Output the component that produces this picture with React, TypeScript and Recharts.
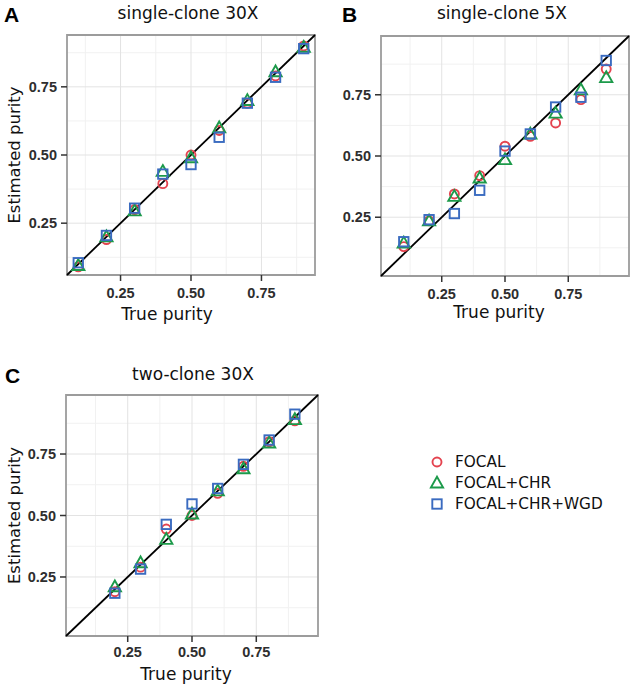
import {
  CartesianGrid,
  Legend,
  ReferenceArea,
  ReferenceLine,
  Scatter,
  ScatterChart,
  XAxis,
  YAxis,
} from "recharts";

// true purity levels
const TRUE_AB = [0.1, 0.2, 0.3, 0.4, 0.5, 0.6, 0.7, 0.8, 0.9];
const TRUE_C = [0.2, 0.3, 0.4, 0.5, 0.6, 0.7, 0.8, 0.9];

// estimated purity
const A_FOCAL = [0.09, 0.19, 0.3, 0.395, 0.5, 0.59, 0.69, 0.79, 0.9];
const A_CHR = [0.095, 0.2, 0.295, 0.44, 0.49, 0.6, 0.7, 0.805, 0.895];
const A_WGD = [0.105, 0.205, 0.305, 0.43, 0.465, 0.565, 0.69, 0.785, 0.89];

const B_FOCAL = [0.13, 0.235, 0.345, 0.42, 0.54, 0.58, 0.635, 0.73, 0.855];
const B_CHR = [0.145, 0.235, 0.335, 0.41, 0.485, 0.59, 0.675, 0.77, 0.82];
const B_WGD = [0.15, 0.24, 0.265, 0.36, 0.52, 0.59, 0.7, 0.74, 0.89];

const C_FOCAL = [0.19, 0.29, 0.445, 0.5, 0.59, 0.7, 0.8, 0.885];
const C_CHR = [0.21, 0.308, 0.403, 0.506, 0.6, 0.69, 0.795, 0.89];
const C_WGD = [0.184, 0.282, 0.464, 0.547, 0.61, 0.708, 0.807, 0.912];

const MAJOR_TICKS = [0.25, 0.5, 0.75];
const MINOR_TICKS = [0.125, 0.375, 0.625, 0.875];

const RED = "#e4434f";
const GREEN = "#1c9a4a";
const BLUE = "#3a6bc0";

const SERIES = [
  { name: "FOCAL", kind: "circle", color: RED },
  { name: "FOCAL+CHR", kind: "triangle", color: GREEN },
  { name: "FOCAL+CHR+WGD", kind: "square", color: BLUE },
];

const TEXT_FONT = "'DejaVu Sans', sans-serif";
const TICK_STYLE = {
  fontSize: 14.5,
  fontWeight: "bold",
  fill: "#2e2e2e",
  fontFamily: "'Liberation Sans', Arial, sans-serif",
};

const toRows = (xs: number[], ys: number[]) => xs.map((x, i) => ({ x, y: ys[i] }));

function Marker({ cx, cy, kind, color }: { cx?: number; cy?: number; kind: string; color: string }) {
  if (cx == null || cy == null) return null;
  const common = { fill: "none", stroke: color, strokeWidth: 1.9 };
  if (kind === "circle") return <circle cx={cx} cy={cy} r={4.5} {...common} />;
  if (kind === "triangle")
    return (
      <polygon
        points={`${cx},${cy - 6.3} ${cx + 6.1},${cy + 4.5} ${cx - 6.1},${cy + 4.5}`}
        {...common}
      />
    );
  return <rect x={cx - 4.7} y={cy - 4.7} width={9.4} height={9.4} {...common} />;
}

function LegendBox() {
  return (
    <div style={{ fontFamily: TEXT_FONT, fontSize: 15.3, color: "#111" }}>
      {SERIES.map((s) => (
        <div key={s.name} style={{ display: "flex", alignItems: "center", height: 21 }}>
          <svg width={18} height={18} style={{ marginRight: 9 }}>
            <Marker cx={9} cy={9} kind={s.kind} color={s.color} />
          </svg>
          <span>{s.name}</span>
        </div>
      ))}
    </div>
  );
}

type PanelProps = {
  left: number;
  top: number;
  width: number;
  height: number;
  marginTop: number;
  marginRight: number;
  yAxisWidth: number;
  xAxisHeight: number;
  domain: [number, number];
  xs: number[];
  focal: number[];
  chr: number[];
  wgd: number[];
  yTitle?: boolean;
  xTickMargin: number;
  xTitleShift: number;
  xTitleOffset: number;
  legend?: boolean;
};

function Panel(p: PanelProps) {
  const [lo, hi] = p.domain;
  const rows = [toRows(p.xs, p.focal), toRows(p.xs, p.chr), toRows(p.xs, p.wgd)];
  return (
    <div style={{ position: "absolute", left: p.left, top: p.top }}>
      <ScatterChart
        width={p.width}
        height={p.height}
        margin={{ top: p.marginTop, right: p.marginRight, bottom: 0, left: 0 }}
      >
        <CartesianGrid
          stroke="#f1f1f1"
          strokeWidth={1}
          horizontalValues={MINOR_TICKS}
          verticalValues={MINOR_TICKS}
        />
        <CartesianGrid
          stroke="#e3e3e3"
          strokeWidth={1}
          horizontalValues={MAJOR_TICKS}
          verticalValues={MAJOR_TICKS}
        />
        <XAxis
          type="number"
          dataKey="x"
          domain={[lo, hi]}
          allowDataOverflow
          ticks={MAJOR_TICKS}
          tickFormatter={(v: number) => v.toFixed(2)}
          height={p.xAxisHeight}
          axisLine={false}
          tickLine={{ stroke: "#333", strokeWidth: 1.5 }}
          tickSize={6}
          tickMargin={p.xTickMargin}
          tick={TICK_STYLE}
          label={{
            value: "True purity",
            position: "insideBottom",
            offset: p.xTitleOffset,
            dx: p.xTitleShift,
            style: { fontSize: 17, fill: "#111", fontFamily: TEXT_FONT },
          }}
        />
        <YAxis
          type="number"
          dataKey="y"
          domain={[lo, hi]}
          allowDataOverflow
          ticks={MAJOR_TICKS}
          tickFormatter={(v: number) => v.toFixed(2)}
          width={p.yAxisWidth}
          axisLine={false}
          tickLine={{ stroke: "#333", strokeWidth: 1.5 }}
          tickSize={6}
          tickMargin={4}
          tick={TICK_STYLE}
          label={
            p.yTitle
              ? {
                  value: "Estimated purity",
                  angle: -90,
                  position: "insideLeft",
                  offset: 14,
                  style: { textAnchor: "middle", fontSize: 16.5, fill: "#111", fontFamily: TEXT_FONT },
                }
              : undefined
          }
        />
        <ReferenceArea x1={lo} x2={hi} y1={lo} y2={hi} fill="none" stroke="#9c9c9c" strokeWidth={1.8} />
        {SERIES.map((s, i) => (
          <Scatter
            key={s.name}
            name={s.name}
            data={rows[i]}
            isAnimationActive={false}
            shape={(props: any) => <Marker cx={props.cx} cy={props.cy} kind={s.kind} color={s.color} />}
          />
        ))}
        <ReferenceLine
          segment={[
            { x: lo, y: lo },
            { x: hi, y: hi },
          ]}
          stroke="#000"
          strokeWidth={1.8}
        />
        {p.legend && (
          <Legend
            layout="vertical"
            align="center"
            verticalAlign="middle"
            wrapperStyle={{ left: 428, top: 121, width: "auto", height: "auto" }}
            content={() => <LegendBox />}
          />
        )}
      </ScatterChart>
    </div>
  );
}

function Heading({ x, y, text }: { x: number; y: number; text: string }) {
  return (
    <div
      style={{
        position: "absolute",
        left: x,
        top: y,
        transform: "translateX(-50%)",
        whiteSpace: "nowrap",
        fontFamily: TEXT_FONT,
        fontSize: 17,
        lineHeight: "20px",
        color: "#111",
      }}
    >
      {text}
    </div>
  );
}

function Letter({ x, y, text }: { x: number; y: number; text: string }) {
  return (
    <div
      style={{
        position: "absolute",
        left: x,
        top: y,
        fontFamily: "'Liberation Sans', Arial, sans-serif",
        fontWeight: "bold",
        fontSize: 21,
        lineHeight: "20px",
        color: "#000",
      }}
    >
      {text}
    </div>
  );
}

export default function App() {
  return (
    <div style={{ position: "absolute", left: 0, top: 0, width: 633, height: 687, background: "#fff" }}>
      <Panel
        left={0}
        top={0}
        width={320}
        height={330}
        marginTop={35}
        marginRight={5}
        yAxisWidth={67}
        xAxisHeight={55}
        domain={[0.06, 0.94]}
        xs={TRUE_AB}
        focal={A_FOCAL}
        chr={A_CHR}
        wgd={A_WGD}
        yTitle
        xTickMargin={7}
        xTitleShift={-24}
        xTitleOffset={10}
      />
      <Panel
        left={320}
        top={0}
        width={313}
        height={330}
        marginTop={36}
        marginRight={4}
        yAxisWidth={61}
        xAxisHeight={54}
        domain={[0.01, 0.99]}
        xs={TRUE_AB}
        focal={B_FOCAL}
        chr={B_CHR}
        wgd={B_WGD}
        xTickMargin={7}
        xTitleShift={-6}
        xTitleOffset={12}
      />
      <Panel
        left={0}
        top={330}
        width={633}
        height={357}
        marginTop={65}
        marginRight={315}
        yAxisWidth={66}
        xAxisHeight={51}
        domain={[0.01, 0.99]}
        xs={TRUE_C}
        focal={C_FOCAL}
        chr={C_CHR}
        wgd={C_WGD}
        yTitle
        xTickMargin={5}
        xTitleShift={-6}
        xTitleOffset={7}
        legend
      />
      <Heading x={188} y={3} text="single-clone 30X" />
      <Heading x={502} y={3} text="single-clone 5X" />
      <Heading x={193} y={364} text="two-clone 30X" />
      <Letter x={4} y={5} text="A" />
      <Letter x={342} y={5} text="B" />
      <Letter x={5} y={366} text="C" />
    </div>
  );
}
